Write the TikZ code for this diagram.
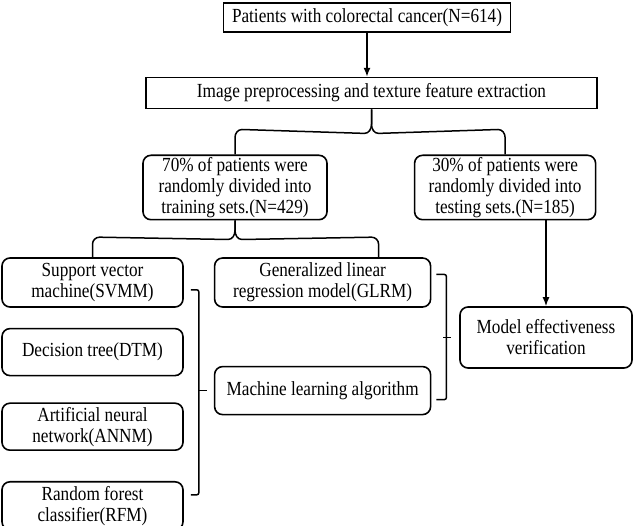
\documentclass[tikz,border=0pt]{standalone}
\usepackage{fontspec}
\setmainfont[FakeStretch=0.86]{Liberation Serif}
\usepackage{tikz}
\usetikzlibrary{calc}
\usetikzlibrary{positioning}
\usetikzlibrary{arrows.meta}

\begin{document}
\begin{tikzpicture}[x=1pt,y=-1pt,font=\fontsize{20}{21}\selectfont,
      sq box/.style={rectangle,draw=black,line width=1.6pt,align=center,
        inner sep=2pt},
      rd box/.style={rectangle,draw=black,line width=1.6pt,rounded
        corners=8pt,align=center,inner sep=2pt},
      link/.style={draw=black,line width=1.5pt},
      arr/.style={draw=black,line width=1.5pt,-{Latex[length=9pt,width=7pt]}}
      ]
      \useasboundingbox (0,0) rectangle (633,526);

      \node[sq box,minimum width=287pt,minimum height=29pt] (pat) at (367,17.5)
        {Patients with colorectal cancer(N=614)};
      \node[sq box,minimum width=451pt,minimum height=31pt,below=44pt of pat,
        xshift=4.5pt] (img) {Image preprocessing and texture feature extraction};
      \node[rd box,minimum width=184pt,minimum height=63pt] (train) at (235,187.5)
        {70\% of patients were\\randomly divided into\\training sets.(N=429)};
      \node[rd box,minimum width=181pt,minimum height=63pt,right=86pt of train]
        (test) {30\% of patients were\\randomly divided into\\testing sets.(N=185)};
      \node[rd box,minimum width=181pt,minimum height=49pt] (svm) at (92.5,282.5)
        {Support vector\\machine(SVMM)};
      \node[rd box,minimum width=181pt,minimum height=47pt,below=20pt of svm]
        (dtm) {Decision tree(DTM)};
      \node[rd box,minimum width=181pt,minimum height=47pt,below=26pt of dtm]
        (ann) {Artificial neural\\network(ANNM)};
      \node[rd box,minimum width=181pt,minimum height=48pt,below=30pt of ann]
        (rfm) {Random forest\\classifier(RFM)};
      \node[rd box,minimum width=216pt,minimum height=49pt,right=30pt of svm]
        (glrm) {Generalized linear\\regression model(GLRM)};
      \node[rd box,minimum width=216pt,minimum height=48pt,below=58pt of glrm]
        (ml) {Machine learning algorithm};
      \node[rd box,minimum width=172pt,minimum height=61pt] (model) at (546,337.5)
        {Model effectiveness\\verification};

      \draw[arr] (pat.south) -- (pat.south |- img.north);

      % brace under the preprocessing box
      \draw[link] (train.north) -- ($(train.north)+(0,-17)$)
        to[out=90,in=180] ($(train.north)+(7,-25)$)
        -- ($(img.south)+(-7,24)$) to[out=0,in=-90] ($(img.south)+(0,15)$)
        -- (img.south);
      \draw[link] (img.south) -- ($(img.south)+(0,15)$)
        to[out=-90,in=180] ($(img.south)+(7,24)$)
        -- ($(test.north)+(-7,-25)$) to[out=0,in=90] ($(test.north)+(0,-17)$)
        -- (test.north);

      % brace under the training box
      \draw[link] (svm.north) -- ($(svm.north)+(0,-13)$)
        to[out=90,in=180] ($(svm.north)+(7,-20)$)
        -- ($(train.south)+(-7,19)$) to[out=0,in=-90] ($(train.south)+(0,10)$)
        -- (train.south);
      \draw[link] (train.south) -- ($(train.south)+(0,10)$)
        to[out=-90,in=180] ($(train.south)+(7,19)$)
        -- ($(glrm.north)+(49,-20)$) to[out=0,in=90] ($(glrm.north)+(56,-13)$)
        -- ($(glrm.north)+(56,0)$);

      % brackets
      \draw[link,rounded corners=2pt] ($(svm.south east)+(7,-18)$)
        -- ($(ml.west |- svm.south east)+(-15,-18)$)
        -- ($(ml.west |- rfm.east)+(-15,-11)$) -- ($(rfm.east)+(7,-11)$);
      \draw[link] ($(ml.west)+(-15,0)$) -- ($(ml.west)+(-7,0)$);
      \draw[link,rounded corners=2pt] ($(glrm.east)+(5,-8)$)
        -- ($(glrm.east)+(15,-8)$) -- ($(glrm.east |- ml.east)+(15,9)$)
        -- ($(ml.east)+(5,9)$);
      \draw[link] ($(model.west)+(-16,0)$) -- ($(model.west)+(-8,0)$);

      \draw[arr] (model.north |- test.south) -- (model.north);

    \end{tikzpicture}
\end{document}
